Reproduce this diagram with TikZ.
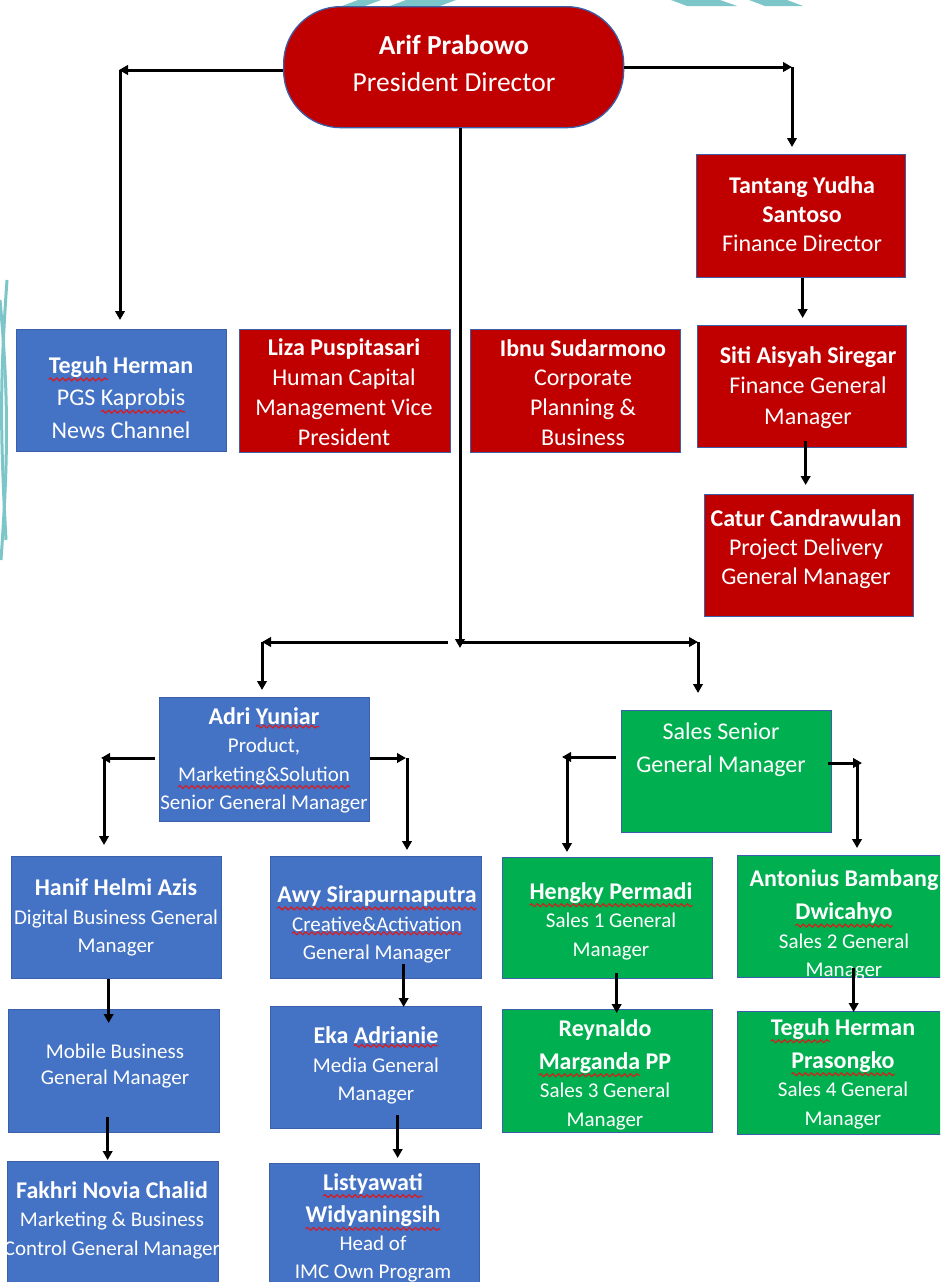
\documentclass[tikz,border=0pt]{standalone}
\usepackage{fontspec}
\setmainfont{Carlito}
\usetikzlibrary{arrows.meta,calc,decorations.pathmorphing}
\definecolor{bxblue}{HTML}{4472C4}
\definecolor{bxred}{HTML}{C00000}
\definecolor{bxgreen}{HTML}{00B050}
\definecolor{bxline}{HTML}{3B5FA8}
\definecolor{tealdeco}{HTML}{7CC5C9}
\definecolor{squig}{HTML}{E01818}
\newcommand\sq[1]{\tikz[baseline=(sqw.base)]{\node[inner sep=0pt,outer sep=0pt,align=center](sqw){#1};\draw[overlay,squig,line width=1.1pt,decorate,decoration={snake,amplitude=1.5pt,segment length=6pt}]([yshift=-2pt]sqw.south west)--([yshift=-2pt]sqw.south east);}}
\newcommand\nm[1]{{\fontsize{24}{28.5}\selectfont\bfseries #1}}
\begin{document}
\begin{tikzpicture}[x=1pt,y=-1pt,
  box/.style={draw=bxline,line width=1.3pt,inner sep=0pt,anchor=north west},
  txt/.style={text=white,align=center,inner sep=0pt},
  arr/.style={line width=3pt,-{Triangle[length=9pt,width=9.5pt]}},
  deco/.style={fill=tealdeco,draw=none}]
\useasboundingbox (0,0) rectangle (940,1282);
\clip (0,0) rectangle (940,1282);
\fill[white] (0,0) rectangle (940,1282);
% decorations
\fill[deco] (342,6) -- (365,6) -- (381,0) -- (358,0) -- cycle;
\fill[deco] (390,6) -- (440,6) -- (456,0) -- (406,0) -- cycle;
\fill[deco] (671,0) -- (720,0) -- (737,6) -- (687,6) -- cycle;
\fill[deco] (749,0) -- (787,0) -- (803,6) -- (765,6) -- cycle;
\draw[tealdeco,line width=3pt] (7,280) .. controls (0,380) and (0,430) .. (6,540);
\draw[tealdeco,line width=3pt] (0,300) .. controls (9,400) and (8,460) .. (1,560);
% boxes
\node[box,fill=bxred,rounded corners=57pt,minimum width=340pt,minimum height=121pt] (pres) at (283,6) {};
\node[box,fill=bxblue,minimum width=210pt,minimum height=122pt] (teguh) at (16,329) {};
\node[box,fill=bxred,minimum width=211pt,minimum height=123pt] (liza) at (239,329) {};
\node[box,fill=bxred,minimum width=210pt,minimum height=123pt] (ibnu) at (470,329) {};
\node[box,fill=bxred,minimum width=209pt,minimum height=123pt] (tantang) at (696,154) {};
\node[box,fill=bxred,minimum width=209pt,minimum height=122pt] (siti) at (697,325) {};
\node[box,fill=bxred,minimum width=209pt,minimum height=122pt] (catur) at (704,494) {};
\node[box,fill=bxblue,minimum width=210pt,minimum height=124pt] (adri) at (159,697) {};
\node[box,fill=bxblue,minimum width=210pt,minimum height=122pt] (hanif) at (11,856) {};
\node[box,fill=bxblue,minimum width=211pt,minimum height=122pt] (awy) at (270,856) {};
\node[box,fill=bxblue,minimum width=211pt,minimum height=123pt] (mobile) at (8,1009) {};
\node[box,fill=bxblue,minimum width=211pt,minimum height=140pt] (fakhri) at (7,1161) {};
\node[box,fill=bxblue,minimum width=211pt,minimum height=122pt] (eka) at (270,1006) {};
\node[box,fill=bxblue,minimum width=210pt,minimum height=140pt] (listya) at (269,1163) {};
\node[box,fill=bxgreen,minimum width=210pt,minimum height=122pt] (sales) at (621,710) {};
\node[box,fill=bxgreen,minimum width=210pt,minimum height=121pt] (hengky) at (502,857) {};
\node[box,fill=bxgreen,minimum width=210pt,minimum height=122pt] (antonius) at (737,855) {};
\node[box,fill=bxgreen,minimum width=210pt,minimum height=123pt] (reyn) at (502,1009) {};
\node[box,fill=bxgreen,minimum width=210pt,minimum height=123pt] (teguhhp) at (737,1011) {};
% texts
\node[txt,font=\fontsize{27.5}{37}\selectfont] (presT) at (454,63.5) {\textbf{Arif Prabowo}\\President Director};
\node[txt,font=\fontsize{24}{32.5}\selectfont] (teguhT) at (121,397.5) {\textbf{\sq{Teguh} Herman}\\PGS \sq{Kaprobis}\\News Channel};
\node[txt,font=\fontsize{24}{30}\selectfont] (lizaT) at (344,392) {\textbf{Liza Puspitasari}\\Human Capital\\Management Vice\\President};
\node[txt,font=\fontsize{24}{29.7}\selectfont] (ibnuT) at (583,392.5) {\textbf{Ibnu Sudarmono}\\Corporate\\Planning \&\\Business};
\node[txt,font=\fontsize{24}{29}\selectfont] (tantangT) at (802,214) {\textbf{Tantang Yudha}\\\textbf{Santoso}\\Finance Director};
\node[txt,font=\fontsize{24}{30.5}\selectfont] (sitiT) at (808,387.5) {\textbf{Siti Aisyah Siregar}\\Finance General\\Manager};
\node[txt,font=\fontsize{24}{29}\selectfont] (caturT) at (806,549) {\textbf{Catur Candrawulan}\\Project Delivery\\General Manager};
\node[txt,font=\fontsize{21}{28.5}\selectfont] (adriT) at (264,760.5) {\nm{Adri \sq{Yuniar}}\\Product,\\\sq{Marketing\&Solution}\\Senior General Manager};
\node[txt,font=\fontsize{21}{28.5}\selectfont] (hanifT) at (116,917.5) {\nm{Hanif Helmi Azis}\\Digital Business General\\Manager};
\node[txt,font=\fontsize{21}{28.5}\selectfont] (awyT) at (377,924.5) {\nm{\sq{Awy Sirapurnaputra}}\\\sq{Creative\&Activation}\\General Manager};
\node[txt,font=\fontsize{21}{26.5}\selectfont] (mobileT) at (115,1066) {Mobile Business\\General Manager};
\begin{scope}
\clip (7,1161) rectangle (218,1282);
\node[txt,font=\fontsize{21}{28.5}\selectfont] (fakhriT) at (112,1220) {\nm{Fakhri Novia Chalid}\\Marketing \& Business\\Control General Manager};
\end{scope}
\node[txt,font=\fontsize{21}{28.5}\selectfont] (ekaT) at (376,1065.5) {\nm{Eka \sq{Adrianie}}\\Media General\\Manager};
\node[txt,font=\fontsize{21}{28}\selectfont] (listyaT) at (373,1228) {\nm{\sq{Listyawati}}\\[4.5pt]\nm{\sq{Widyaningsih}}\\Head of\\IMC Own Program};
\node[txt,font=\fontsize{24}{33}\selectfont] (salesT) at (721,749.5) {Sales Senior\\General Manager};
\node[txt,font=\fontsize{21}{28.5}\selectfont] (hengkyT) at (611,921) {\nm{\sq{Hengky Permadi}}\\Sales 1 General\\Manager};
\node[txt,font=\fontsize{21}{28.5}\selectfont] (antoniusT) at (844,925) {\nm{Antonius Bambang}\\[5pt]\nm{\sq{Dwicahyo}}\\Sales 2 General\\Manager};
\node[txt,font=\fontsize{21}{28.5}\selectfont] (reynT) at (605,1074.5) {\nm{Reynaldo}\\[4.5pt]\nm{\sq{Marganda} PP}\\Sales 3 General\\Manager};
\node[txt,font=\fontsize{21}{28.5}\selectfont] (teguhhpT) at (843,1073.5) {\nm{\sq{Teguh} Herman}\\[4.5pt]\nm{\sq{Prasongko}}\\Sales 4 General\\Manager};
% corner coordinates
\coordinate (kTL) at (119,70);
\coordinate (kTR) at (792,67);
\coordinate (kC) at (460,642);
\coordinate (kCL) at (262,642);
\coordinate (kCR) at (698,642);
\coordinate (kAL) at (101,758);
\coordinate (kAR) at (406,758);
\coordinate (kSL) at (562,757);
\coordinate (kSR) at (862,763);
% connectors
\draw[arr] (pres.west |- kTL) -- (kTL);
\draw[arr] ($(kTL)+(1,0)$) -- ($(kTL |- teguh.north)+(1,-9)$);
\draw[arr] (pres.east |- kTR) -- (kTR);
\draw[arr] (kTR) -- ($(kTR |- tantang.north)+(0,-7)$);
\draw[arr] ($(tantang.south)+(1.5,0)$) -- ($(tantang.south |- siti.north)+(1.5,-7)$);
\draw[arr] ($(siti.south)+(3.5,-7)$) -- ($(siti.south |- catur.north)+(3.5,-9)$);
\draw[arr] (pres.south -| kC) -- ($(kC)+(0,6)$);
\draw[arr] ($(kC)+(-12,0)$) -- (kCL);
\draw[arr] (kC) -- (kCR);
\draw[arr] (kCL) -- ($(kCL |- adri.north)+(0,-7)$);
\draw[arr] (kCR) -- ($(kCR |- sales.north)+(0,-17)$);
\draw[arr] ($(adri.west |- kAL)+(-4,0)$) -- (kAL);
\draw[arr] ($(kAL)+(3,0)$) -- ($(kAL |- hanif.north)+(3,-11)$);
\draw[arr] (adri.east |- kAR) -- (kAR);
\draw[arr] ($(kAR)+(1,0)$) -- ($(kAR |- awy.north)+(1,-6)$);
\draw[arr] ($(sales.west |- kSL)+(-5,0)$) -- (kSL);
\draw[arr] ($(kSL)+(5,0)$) -- ($(kSL |- hengky.north)+(5,-5)$);
\draw[arr] ($(sales.east |- kSR)+(-4,0)$) -- (kSR);
\draw[arr] ($(kSR)+(-5,0)$) -- ($(kSR |- antonius.north)+(-5,-7)$);
\draw[arr] ($(hanif.south)+(-8,0)$) -- ($(hanif.south |- mobile.north)+(-8,14)$);
\draw[arr] ($(mobile.south)+(-6.5,-16)$) -- ($(mobile.south |- fakhri.north)+(-6.5,-1)$);
\draw[arr] ($(awy.south)+(27.5,-15)$) -- ($(awy.south |- eka.north)+(27.5,1)$);
\draw[arr] ($(eka.south)+(21.5,-14)$) -- ($(eka.south |- listya.north)+(21.5,-5)$);
\draw[arr] ($(hengky.south)+(9,-6)$) -- ($(hengky.south |- reyn.north)+(9,4)$);
\draw[arr] ($(antonius.south)+(11,-10)$) -- ($(antonius.south |- teguhhp.north)+(11,1)$);
\end{tikzpicture}
\end{document}
